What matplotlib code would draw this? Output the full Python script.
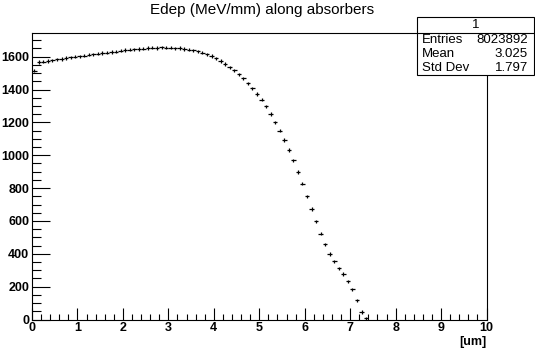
import numpy as np
import matplotlib
matplotlib.use("Agg")
import matplotlib.pyplot as plt
from matplotlib.ticker import MultipleLocator

plt.rcParams['font.family'] = ['Liberation Sans', 'DejaVu Sans']

# histogram: 100 bins over 0..10 um, only the filled ones listed
nbins = 100
xmin, xmax = 0.0, 10.0
edep = [1514, 1568, 1569, 1574, 1578, 1583, 1586, 1592, 1597, 1599,
        1603, 1607, 1611, 1615, 1618, 1622, 1625, 1628, 1631, 1636,
        1640, 1642, 1645, 1647, 1649, 1652, 1655, 1653, 1656, 1655,
        1655, 1650, 1653, 1647, 1643, 1638, 1632, 1625, 1615, 1604,
        1590, 1574, 1556, 1536, 1517, 1493, 1468, 1438, 1407, 1372,
        1338, 1298, 1251, 1200, 1149, 1093, 1032, 969, 898, 827,
        750, 672, 597, 522, 458, 399, 354, 311, 277, 232,
        184, 117, 46, 7]
err = 10

title = "Edep (MeV/mm) along absorbers"
xlabel = "[um]"
stats_name = "1"
stats_rows = [("Entries", "8023892"), ("Mean", "3.025"), ("Std Dev", "1.797")]

W, H = 535, 351
fig = plt.figure(figsize=(W / 100, H / 100), dpi=100)
ax = fig.add_axes([32 / W, 1 - 319.5 / H, (486.5 - 32) / W, (319.5 - 33) / H])

width = (xmax - xmin) / nbins
centers = xmin + width * (np.arange(len(edep)) + 0.5)
ax.errorbar(centers, edep, xerr=width / 2, yerr=err, fmt='none',
            ecolor='black', elinewidth=0.9, capsize=0)

ax.set_xlim(xmin, xmax)
ax.set_ylim(0, 1744)
ax.xaxis.set_major_locator(MultipleLocator(1))
ax.xaxis.set_minor_locator(MultipleLocator(0.2))
ax.yaxis.set_major_locator(MultipleLocator(200))
ax.yaxis.set_minor_locator(MultipleLocator(50))
ax.tick_params(which='both', direction='in', top=False, right=False,
               width=0.8, labelsize=9, pad=2)
ax.tick_params(axis='x', which='major', length=9)
ax.tick_params(axis='x', which='minor', length=4.5)
ax.tick_params(axis='y', which='major', length=13)
ax.tick_params(axis='y', which='minor', length=6.5)
for lab in ax.get_xticklabels() + ax.get_yticklabels():
    lab.set_fontweight('bold')
for sp in ax.spines.values():
    sp.set_linewidth(0.8)

fig.text(0.49, 1 - 10 / H, title, ha='center', va='center', fontsize=11)
fig.text(486 / W, 1 - 342 / H, xlabel, ha='right', va='center',
         fontsize=9, fontweight='bold')

# stats box
bx0, bx1, by0, by1, sep = 417, 534, 17, 75, 33
box = plt.Rectangle((bx0 / W, 1 - by1 / H), (bx1 - bx0) / W, (by1 - by0) / H,
                    transform=fig.transFigure, facecolor='white',
                    edgecolor='black', linewidth=0.8, zorder=5)
fig.add_artist(box)
fig.add_artist(plt.Line2D([bx0 / W, bx1 / W], [1 - sep / H, 1 - sep / H],
                          transform=fig.transFigure, color='black',
                          linewidth=0.8, zorder=6))
fig.text((bx0 + bx1) / 2 / W, 1 - (by0 + sep) / 2 / H, stats_name,
         ha='center', va='center', fontsize=9.5, zorder=7)
rowh = (by1 - sep) / len(stats_rows)
for i, (k, v) in enumerate(stats_rows):
    yy = 1 - (sep + rowh * (i + 0.5)) / H
    fig.text((bx0 + 5) / W, yy, k, ha='left', va='center', fontsize=9.5, zorder=7)
    fig.text((bx1 - 6) / W, yy, v, ha='right', va='center', fontsize=9.5, zorder=7)

fig.savefig("out.png", dpi=100)
